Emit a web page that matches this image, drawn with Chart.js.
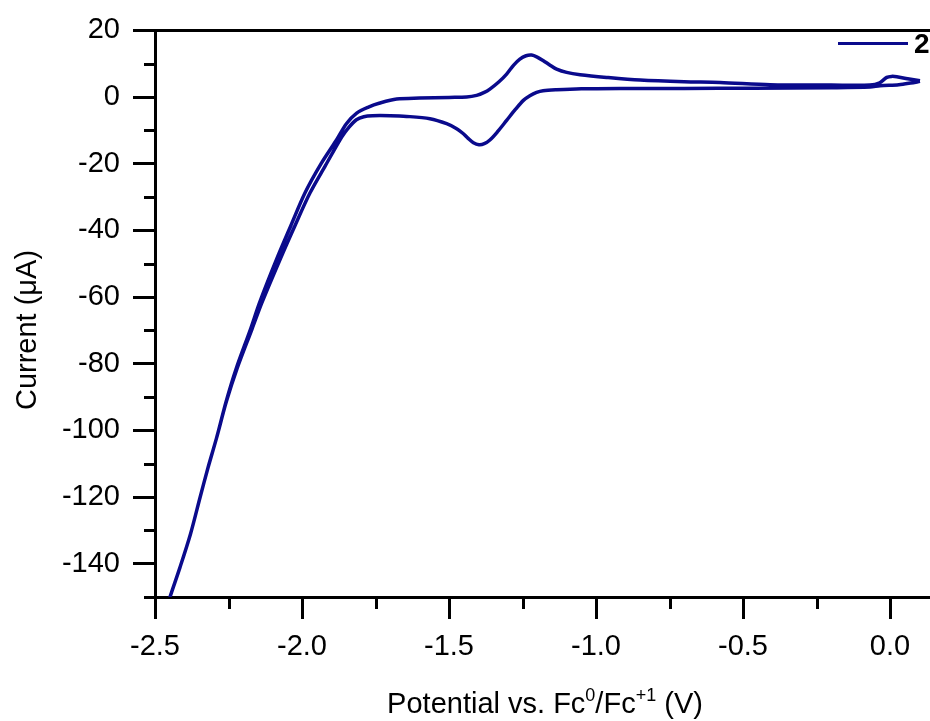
<!DOCTYPE html>
<html>
<head>
<meta charset="utf-8">
<script src="https://cdn.jsdelivr.net/npm/chart.js@4"></script>
<style>
  body { margin: 0; background: #fff; }
  canvas { display: block; }
</style>
</head>
<body>
<canvas id="myChart" width="930" height="721"></canvas>
<script>
// CV scan, in scan order: negative sweep (lower branch) then back (upper branch)
const potential = [
    0.102, 0.07, 0.03, -0.034, -0.068, -0.20, -0.466, -0.70, -0.918, -1.05,
    -1.134, -1.18, -1.202, -1.225, -1.247, -1.275, -1.304, -1.335, -1.361, -1.38,
    -1.398, -1.417, -1.435, -1.451, -1.474, -1.508, -1.565, -1.644, -1.70, -1.76,
    -1.79, -1.815, -1.84, -1.865, -1.92, -1.973, -2.024, -2.075, -2.136, -2.170,
    -2.221, -2.257, -2.291, -2.320, -2.347, -2.379, -2.415, -2.449, -2.47,
    -2.449, -2.415, -2.379, -2.347, -2.320, -2.291, -2.258, -2.224, -2.175, -2.144,
    -2.087, -2.038, -1.990, -1.935, -1.885, -1.849, -1.814, -1.774, -1.735, -1.678,
    -1.60, -1.50, -1.440, -1.406, -1.38, -1.361, -1.33, -1.304, -1.28, -1.259,
    -1.238, -1.219, -1.20, -1.179, -1.155, -1.134, -1.10, -1.054, -0.964, -0.850,
    -0.70, -0.578, -0.408, -0.20, -0.068, -0.035, -0.011, 0.005, 0.023, 0.06, 0.102
];
const current = [
    4.7, 4.2, 3.7, 3.4, 3.0, 2.8, 2.65, 2.6, 2.6, 2.5,
    2.2, 1.9, 1.4, 0.4, -1.0, -3.8, -7.0, -10.4, -12.9, -14.0,
    -14.3, -13.7, -12.4, -11.0, -9.5, -8.0, -6.5, -5.8, -5.6, -5.6,
    -5.9, -6.8, -9.0, -12.0, -20.5, -28.8, -38.6, -48.8, -61.6, -69.6,
    -81.5, -91.3, -102.4, -111.3, -120.2, -131.0, -141.1, -150.0, -156,
    -150.0, -141.1, -131.0, -120.2, -111.3, -102.4, -91.3, -81.5, -69.6, -61.6,
    -48.8, -38.6, -28.8, -20.0, -13.2, -8.0, -4.8, -3.0, -1.8, -0.6,
    -0.3, -0.1, 0.0, 0.5, 1.4, 2.4, 4.6, 6.9, 9.6, 11.4,
    12.4, 12.6, 12.0, 10.9, 9.5, 8.4, 7.4, 6.7, 5.9, 5.1,
    4.6, 4.4, 3.7, 3.6, 3.6, 4.3, 5.9, 6.2, 6.1, 5.5, 4.9
];
const seriesName = '2';

const xMajor = [-2.5, -2.0, -1.5, -1.0, -0.5, 0.0];
const xMinor = [-2.25, -1.75, -1.25, -0.75, -0.25];
const yMajor = [-140, -120, -100, -80, -60, -40, -20, 0, 20];
const yMinor = [-150, -130, -110, -90, -70, -50, -30, -10, 10];

const lineColor = '#0a0a8c';
const fontFamily = '"Liberation Sans", Arial, sans-serif';

// minor ticks, top frame line, axis titles and legend
const extras = {
    id: 'extras',
    afterDraw(chart) {
        const c = chart.ctx;
        const area = chart.chartArea;
        const xs = chart.scales.x, ys = chart.scales.y;
        c.save();
        c.strokeStyle = '#000';
        c.lineWidth = 3;
        c.beginPath();
        xMinor.forEach(v => {
            const px = Math.round(xs.getPixelForValue(v)) + 0.5;
            c.moveTo(px, area.bottom);
            c.lineTo(px, area.bottom + 12);
        });
        yMinor.forEach(v => {
            const py = Math.round(ys.getPixelForValue(v)) + 0.5;
            c.moveTo(area.left, py);
            c.lineTo(area.left - 11, py);
        });
        const top = Math.round(area.top) + 0.5;
        c.moveTo(area.left, top);
        c.lineTo(area.right, top);
        c.stroke();

        // y title
        c.fillStyle = '#000';
        c.font = '29px ' + fontFamily;
        c.textBaseline = 'alphabetic';
        c.save();
        c.translate(36, 330);
        c.rotate(-Math.PI / 2);
        c.textAlign = 'center';
        c.fillText('Current (\u03BCA)', 0, 0);
        c.restore();

        // x title with superscripts
        const parts = [
            ['Potential vs. Fc', false], ['0', true], ['/Fc', false], ['+1', true], [' (V)', false]
        ];
        let total = 0;
        parts.forEach(p => {
            c.font = (p[1] ? '18px ' : '29px ') + fontFamily;
            total += c.measureText(p[0]).width;
        });
        let x = 545 - total / 2;
        c.textAlign = 'left';
        parts.forEach(p => {
            c.font = (p[1] ? '18px ' : '29px ') + fontFamily;
            c.fillText(p[0], x, p[1] ? 701 : 713);
            x += c.measureText(p[0]).width;
        });

        // legend
        const ds = chart.data.datasets[0];
        c.strokeStyle = ds.borderColor;
        c.lineWidth = 3;
        c.beginPath();
        c.moveTo(838, 43.5);
        c.lineTo(908, 43.5);
        c.stroke();
        c.font = 'bold 28px ' + fontFamily;
        c.fillText(ds.label, 914, 53);
        c.restore();
    }
};

const ctx = document.getElementById('myChart').getContext('2d');
const chart = new Chart(ctx, {
    type: 'scatter',
    data: {
        datasets: [{
            label: seriesName,
            data: potential.map((v, i) => ({ x: v, y: current[i] })),
            showLine: true,
            borderColor: lineColor,
            borderWidth: 3.5,
            pointRadius: 0,
            tension: 0.3,
            clip: 0
        }]
    },
    options: {
        responsive: false,
        animation: false,
        layout: { padding: 0 },
        plugins: {
            legend: { display: false },
            tooltip: { enabled: false }
        },
        scales: {
            x: {
                type: 'linear',
                min: -2.5,
                max: 0.136,
                afterFit: s => { s.height = 124; },
                afterBuildTicks: s => { s.ticks = xMajor.map(v => ({ value: v })); },
                grid: { drawOnChartArea: false, tickLength: 22, tickWidth: 3, tickColor: '#000' },
                border: { color: '#000', width: 3 },
                ticks: {
                    color: '#000',
                    padding: 11,
                    maxRotation: 0,
                    font: { family: fontFamily, size: 29 },
                    callback: v => v.toFixed(1)
                }
            },
            y: {
                min: -150,
                max: 20,
                afterFit: s => { s.width = 155; },
                afterBuildTicks: s => { s.ticks = yMajor.map(v => ({ value: v })); },
                grid: { drawOnChartArea: false, tickLength: 22, tickWidth: 3, tickColor: '#000' },
                border: { color: '#000', width: 3 },
                ticks: {
                    color: '#000',
                    padding: 13,
                    font: { family: fontFamily, size: 29 },
                    callback: v => String(v)
                }
            }
        }
    },
    plugins: [extras]
});
</script>
</body>
</html>
